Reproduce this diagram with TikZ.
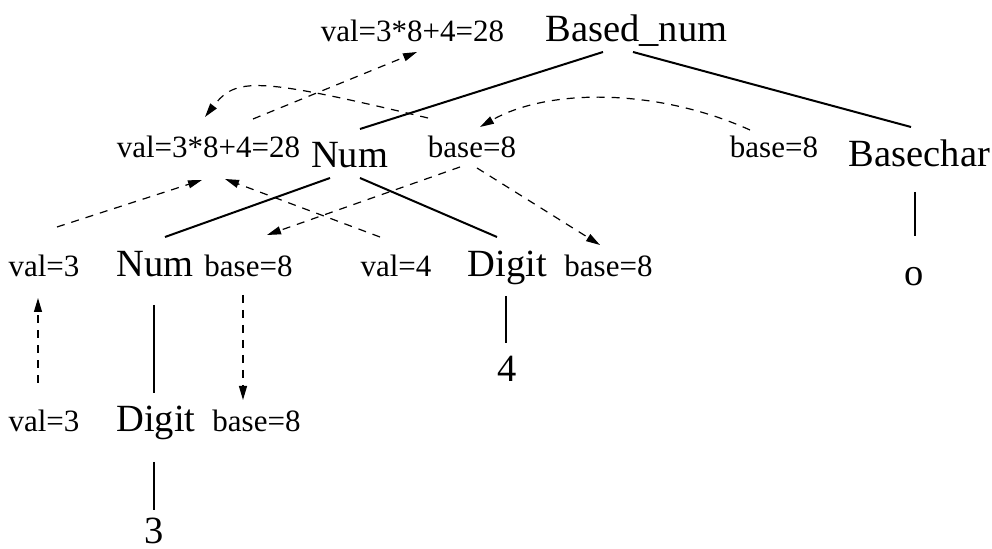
\documentclass[tikz,border=0pt]{standalone}
\usepackage{fontspec}
\setmainfont{Liberation Serif}
\usetikzlibrary{arrows.meta,calc}

\begin{document}
\begin{tikzpicture}[x=0.5pt,y=-0.5pt,
  big/.style={font=\fontsize{19.25}{23}\selectfont,inner sep=0pt,anchor=base},
  small/.style={font=\fontsize{15.5}{18}\selectfont,inner sep=0pt,anchor=base},
  edge/.style={line width=1pt},
  attr/.style={line width=0.6pt,dash pattern=on 4pt off 3.5pt,
    -{Triangle[length=7pt,width=4pt]}}]

\useasboundingbox (0,0) rectangle (992,549);

% Parse tree nodes
\node[big] (bnum) at (636.5,42) {Based\_num};
\node[big] (num) at (349.5,168) {Num};
\node[big] (bchar) at (919.5,167) {Basechar};
\node[big] (num2) at (155,277) {Num};
\node[big] (digit) at (507.5,277) {Digit};
\node[big] (digit2) at (156,432) {Digit};
\node[big] (four) at (507,382) {4};
\node[big] (three) at (154,544) {3};
\node[big] (octal) at (914.5,286) {o};

% Attribute values
\node[small] (valtop) at (412.5,42) {val=3*8+4=28};
\node[small] (valnum) at (208.5,158) {val=3*8+4=28};
\node[small] (basenum) at (472,158) {base=8};
\node[small] (basebc) at (774,158) {base=8};
\node[small] (val3) at (44,277) {val=3};
\node[small] (base2) at (248.5,277) {base=8};
\node[small] (val4) at (396,277) {val=4};
\node[small] (basedig) at (608.5,277) {base=8};
\node[small] (val3b) at (44,432) {val=3};
\node[small] (base3) at (256.5,432) {base=8};

% Tree edges
\draw[edge] ($(bnum.base)+(-33.5,10)$) -- ($(num.base)+(10.5,-39)$);
\draw[edge] ($(bnum.base)+(-3.5,10)$) -- ($(bchar.base)+(-8.5,-40)$);
\draw[edge] ($(num.base)+(-19.5,10)$) -- ($(num2.base)+(10,-40)$);
\draw[edge] ($(num.base)+(10.5,10)$) -- ($(digit.base)+(-10.5,-40)$);
\draw[edge] ($(num2.base)+(-1,28)$) -- ($(digit2.base)+(-2,-39)$);
\draw[edge] ($(digit2.base)+(-2,30)$) -- ($(three.base)+(0,-34)$);
\draw[edge] ($(digit.base)+(-1.5,19)$) -- ($(four.base)+(-1,-39)$);
\draw[edge] ($(bchar.base)+(-4.5,25)$) -- ($(octal.base)+(0.5,-50)$);

% Synthesized values (upwards)
\draw[attr] ($(valnum.base)+(44.5,-39)$) -- ($(valtop.base)+(4.5,10)$);
\draw[attr] ($(val3.base)+(13,-50)$) -- ($(valnum.base)+(-6.5,22)$);
\draw[attr] ($(val4.base)+(-16,-40)$) -- ($(valnum.base)+(16.5,21)$);
\draw[attr] ($(val3b.base)+(-6,-49)$) -- ($(val3.base)+(-6,21)$);

% Inherited base (downwards)
\draw[attr] ($(basenum.base)+(-44,-40)$) .. controls +(-172,-41) and +(31,-40) .. ($(valnum.base)+(-3.5,-41)$);
\draw[attr] ($(basebc.base)+(-24,-28)$) .. controls +(-93,-42) and +(68,-39) .. ($(basenum.base)+(8,-31)$);
\draw[attr] ($(basenum.base)+(-12,9)$) -- ($(base2.base)+(18.5,-42)$);
\draw[attr] ($(basenum.base)+(5,10)$) -- ($(basedig.base)+(-8.5,-32)$);
\draw[attr] ($(base2.base)+(-5.5,18)$) -- ($(base3.base)+(-13.5,-32)$);
\end{tikzpicture}
\end{document}
